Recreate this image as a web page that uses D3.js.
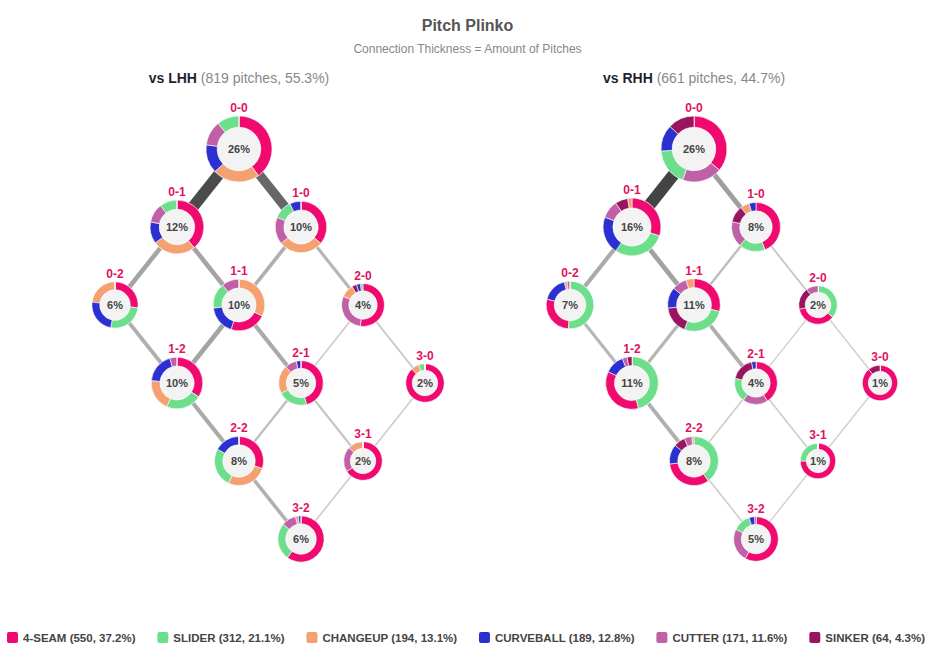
<!DOCTYPE html>
<html>
<head>
<meta charset="utf-8">
<script src="https://d3js.org/d3.v7.min.js"></script>
<style>
  body { margin: 0; background: #fff; }
  svg { display: block; font-family: "Liberation Sans", Arial, Helvetica, sans-serif; }
</style>
</head>
<body>
<script>
// pitch types (legend order)
var pitchTypes = ["4-SEAM", "SLIDER", "CHANGEUP", "CURVEBALL", "CUTTER", "SINKER"];
var pitchTotals = [550, 312, 194, 189, 171, 64];
var pitchShares = [37.2, 21.1, 13.1, 12.8, 11.6, 4.3];
var pitchColors = ["#f0096f", "#6ddf8c", "#f5a070", "#2c30d0", "#c060a6", "#9a1560"];

// counts and the connections between them
var counts = ["0-0", "0-1", "1-0", "0-2", "1-1", "2-0", "1-2", "2-1", "3-0", "2-2", "3-1", "3-2"];
var linkFrom = ["0-0", "0-0", "0-1", "0-1", "1-0", "1-0", "0-2", "1-1", "1-1", "2-0", "2-0", "1-2", "2-1", "2-1", "3-0", "2-2", "3-1"];
var linkTo   = ["0-1", "1-0", "0-2", "1-1", "1-1", "2-0", "1-2", "1-2", "2-1", "2-1", "3-0", "2-2", "2-2", "3-1", "3-1", "3-2", "3-2"];

// vs LHH
var lhhTitle = ["vs LHH", "(819 pitches, 55.3%)"];
var lhhPct = [26, 12, 10, 6, 10, 4, 10, 5, 2, 8, 2, 6];
var lhhMix = [
  [40, 11, 23, 14, 12, 0],
  [39, 10.5, 26, 13, 11.5, 0],
  [36, 12, 28, 7, 17, 0],
  [27, 26, 23, 24, 0, 0],
  [23, 16, 32, 18, 11, 0],
  [52, 2, 10, 3, 29.5, 3.5],
  [34, 22.5, 20, 19, 4.5, 0],
  [46, 21.5, 20.5, 3.5, 8.5, 0],
  [88, 5.5, 6.5, 0, 0, 0],
  [30, 26, 27, 17, 0, 0],
  [66, 0, 13, 0, 21, 0],
  [60, 26, 2.2, 1.8, 10, 0]
];
var lhhLinks = [101, 80, 34, 34, 26, 21, 26, 34, 30, 5, 8, 30, 14, 10, 5, 25, 5];

// vs RHH
var rhhTitle = ["vs RHH", "(661 pitches, 44.7%)"];
var rhhPct = [26, 16, 8, 7, 11, 2, 11, 4, 1, 8, 1, 5];
var rhhMix = [
  [36, 18.5, 0, 13, 19.5, 13],
  [30, 29.5, 2.5, 21, 10, 7],
  [44, 17.5, 6, 4.5, 17, 11],
  [28, 51, 2, 17, 2, 0],
  [29, 27, 5, 13, 9, 17],
  [35.5, 36, 0, 0, 10, 18.5],
  [36, 46, 0, 12, 3, 3],
  [41, 18.5, 0, 3.5, 19, 18],
  [89, 0, 0, 0, 0, 11],
  [33, 40, 1.5, 13, 5, 7.5],
  [75, 25, 0, 0, 0, 0],
  [58, 13, 0, 4, 24, 1]
];
var rhhLinks = [106, 38, 30, 36, 14, 8, 20, 22, 26, 3, 3, 26, 5, 5, 3, 5, 3];

//medidas
var w = 935;
var h = 665;

var svg = d3.select("body").append("svg")
  .attr("width", w)
  .attr("height", h);

svg.append("text")
  .attr("x", w / 2).attr("y", 31)
  .attr("text-anchor", "middle")
  .attr("font-size", 16).attr("font-weight", "bold")
  .attr("fill", "#555")
  .text("Pitch Plinko");

svg.append("text")
  .attr("x", w / 2).attr("y", 53)
  .attr("text-anchor", "middle")
  .attr("font-size", 12)
  .attr("fill", "#888")
  .text("Connection Thickness = Amount of Pitches");

// scales
var panelX = d3.scalePoint().domain(["LHH", "RHH"]).range([239, 694]);
var xStep = d3.scaleLinear().domain([-3, 3]).range([-186, 186]);
var yRow = d3.scaleLinear().domain([0, 5]).range([149, 539]);
var rScale = d3.scaleSqrt().domain([0, 26]).range([14, 33]);
var maxLink = d3.max(lhhLinks.concat(rhhLinks));
var wScale = d3.scaleLinear().domain([0, maxLink]).range([1, 12]);
var cScale = d3.scaleLinear().domain([0, maxLink]).range(["#d2d2d2", "#444"]);
// biggest slice first, clockwise from 12 o'clock
var pie = d3.pie().sortValues(function (a, b) { return b - a; });

function drawPanel(key, title, pct, mix, links) {
  var cx = panelX(key);
  var pos = {};
  counts.forEach(function (c) {
    var b = +c.split("-")[0], s = +c.split("-")[1];
    pos[c] = [cx + xStep(b - s), yRow(b + s)];
  });

  var g = svg.append("g");

  var t = g.append("text")
    .attr("x", cx).attr("y", 83)
    .attr("text-anchor", "middle")
    .attr("font-size", 14);
  t.append("tspan").attr("font-weight", "bold").attr("fill", "#1f1f2e").text(title[0] + " ");
  t.append("tspan").attr("fill", "#888").text(title[1]);

  // connections
  g.append("g").selectAll("line")
    .data(linkFrom.map(function (f, i) { return { from: f, to: linkTo[i], v: links[i] }; }))
    .enter().append("line")
    .attr("x1", function (d) { return pos[d.from][0]; })
    .attr("y1", function (d) { return pos[d.from][1]; })
    .attr("x2", function (d) { return pos[d.to][0]; })
    .attr("y2", function (d) { return pos[d.to][1]; })
    .attr("stroke", function (d) { return cScale(d.v); })
    .attr("stroke-width", function (d) { return wScale(d.v); });

  // donuts
  var node = g.append("g").selectAll("g")
    .data(counts.map(function (c, i) { return { count: c, pct: pct[i], mix: mix[i] }; }))
    .enter().append("g")
    .attr("transform", function (d) { return "translate(" + pos[d.count][0] + "," + pos[d.count][1] + ")"; });

  node.append("circle")
    .attr("r", function (d) { return rScale(d.pct); })
    .attr("fill", "#fff");

  node.each(function (d) {
    var r = rScale(d.pct);
    var arc = d3.arc().innerRadius(r * 0.66).outerRadius(r);
    // pie() keeps arcs in data order, so i is the pitch type
    d3.select(this).selectAll("path")
      .data(pie(d.mix))
      .enter().append("path")
      .attr("d", arc)
      .attr("fill", function (a, i) { return pitchColors[i]; })
      .attr("stroke", "#fff")
      .attr("stroke-width", 0.6);
  });

  node.append("circle")
    .attr("r", function (d) { return rScale(d.pct) * 0.66 - 0.5; })
    .attr("fill", "#f3f3f3");

  node.append("text")
    .attr("y", 4)
    .attr("text-anchor", "middle")
    .attr("font-size", 11).attr("font-weight", "bold")
    .attr("fill", "#444")
    .text(function (d) { return d.pct + "%"; });

  node.append("text")
    .attr("y", function (d) { return -rScale(d.pct) - 4; })
    .attr("text-anchor", "middle")
    .attr("font-size", 12).attr("font-weight", "bold")
    .attr("fill", "#e2125f")
    .text(function (d) { return d.count; });
}

drawPanel("LHH", lhhTitle, lhhPct, lhhMix, lhhLinks);
drawPanel("RHH", rhhTitle, rhhPct, rhhMix, rhhLinks);

// legend, spread between x=7 and x=925
var legend = svg.append("g");
var items = legend.selectAll("g")
  .data(pitchTypes.map(function (p, i) { return { name: p, n: pitchTotals[i], share: pitchShares[i], color: pitchColors[i] }; }))
  .enter().append("g");

items.append("rect")
  .attr("y", 632).attr("width", 11).attr("height", 11).attr("rx", 2)
  .attr("fill", function (d) { return d.color; });

items.append("text")
  .attr("x", 16).attr("y", 642)
  .attr("font-size", 11.5).attr("font-weight", "bold")
  .attr("fill", "#444")
  .text(function (d) { return d.name + " (" + d.n + ", " + d.share + "%)"; });

var widths = [];
items.each(function () {
  widths.push(16 + d3.select(this).select("text").node().getComputedTextLength());
});
var gap = (918 - d3.sum(widths)) / (widths.length - 1);
var xPos = 7;
var offsets = widths.map(function (wd) { var o = xPos; xPos += wd + gap; return o; });
items.attr("transform", function (d, i) { return "translate(" + offsets[i] + ",0)"; });
</script>
</body>
</html>
